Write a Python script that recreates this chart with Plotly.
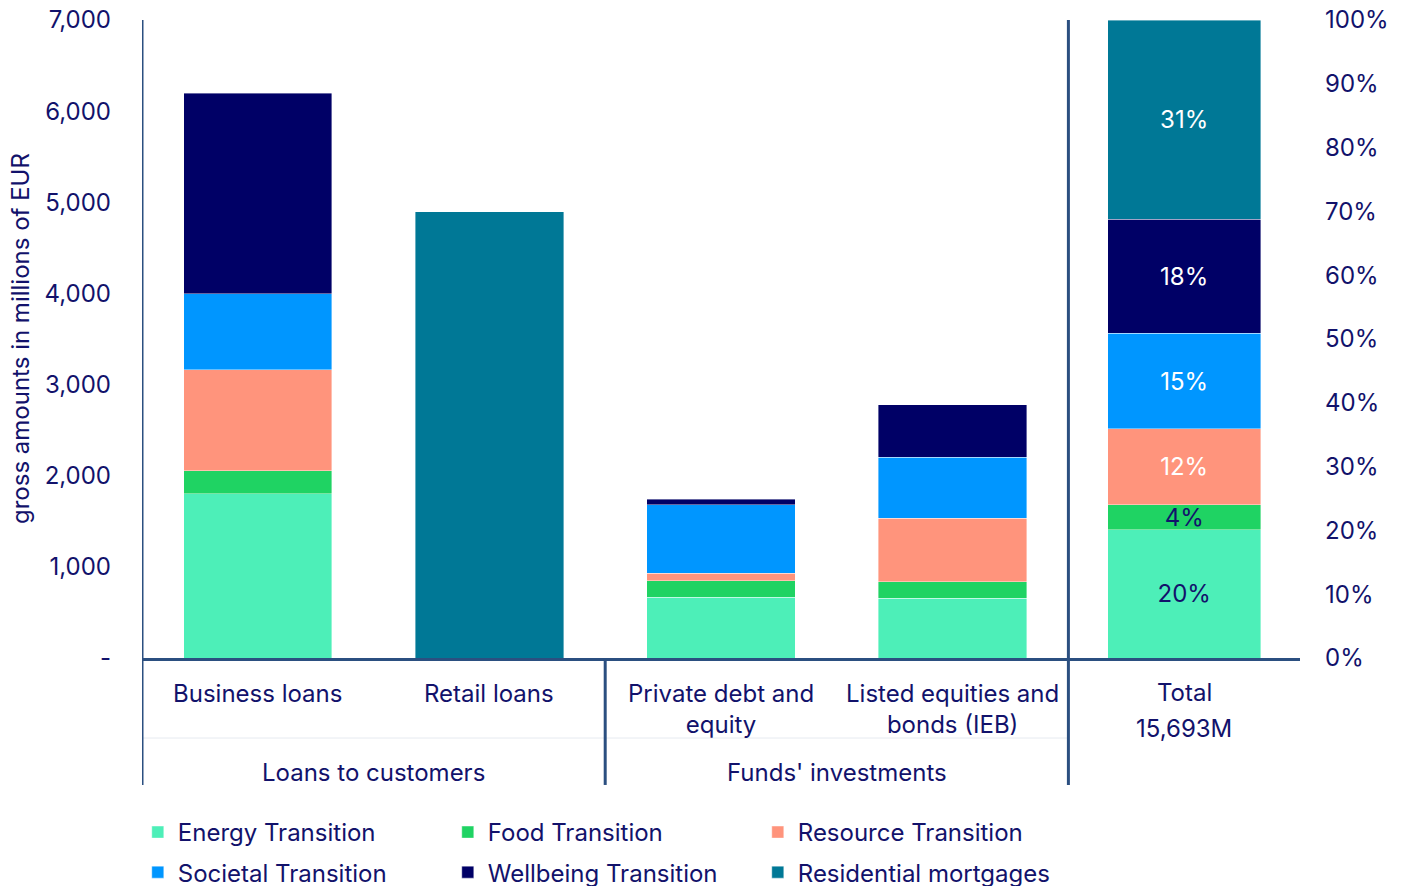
import plotly.graph_objects as go

# ---- data ----
categories = ["Business loans", "Retail loans", "Private debt and equity", "Listed equities and bonds (IEB)"]
category_labels = ["Business loans", "Retail loans", "Private debt and<br>equity", "Listed equities and<br>bonds (IEB)"]
series_names = ["Energy Transition", "Food Transition", "Resource Transition",
                "Societal Transition", "Wellbeing Transition", "Residential mortgages"]
energy = [1800, None, 669, 655]
food = [252, None, 179, 179]
resource = [1108, None, 81, 699]
societal = [834, None, 750, 672]
wellbeing = [2205, None, 62, 571]
residential = [None, 4895, None, None]
total_shares = [20.1, 3.9, 11.9, 15.0, 17.9, 31.2]   # % of total
total_label = "Total"
total_amount = "15,693M"
group_labels = ["Loans to customers", "Funds' investments"]
left_ticks = [0, 1000, 2000, 3000, 4000, 5000, 6000, 7000]
left_tick_text = ["-", "1,000", "2,000", "3,000", "4,000", "5,000", "6,000", "7,000"]
right_ticks = [0, 10, 20, 30, 40, 50, 60, 70, 80, 90, 100]
right_tick_text = [f"{v}%" for v in right_ticks]

colors = ["#4DEFB8", "#1FD363", "#FF947C", "#0096FF", "#000066", "#007896"]
label_colors = ["#12126b", "#12126b", "#ffffff", "#ffffff", "#ffffff", "#ffffff"]
TXT = "#12126b"
LINE = "#2B4F80"
FONT = "Inter"
FS = 24

series_values = [energy, food, resource, societal, wellbeing, residential]

fig = go.Figure()
x_all = categories + [total_label]
for i, name in enumerate(series_names):
    fig.add_trace(go.Bar(
        x=categories, y=series_values[i], name=name,
        marker=dict(color=colors[i], line=dict(color="rgba(255,255,255,0.5)", width=0.8)),
        width=0.64, legend="legend" if i < 3 else "legend2",
        yaxis="y", hoverinfo="x+y+name"))
for i, name in enumerate(series_names):
    fig.add_trace(go.Bar(
        x=[total_label], y=[total_shares[i]], name=name, showlegend=False,
        marker=dict(color=colors[i], line=dict(color="rgba(255,255,255,0.5)", width=0.8)),
        width=0.66, yaxis="y2",
        text=[f"{round(total_shares[i]):d}%"], textposition="inside",
        insidetextanchor="middle", constraintext="none", textangle=0,
        textfont=dict(color=label_colors[i], size=FS, family=FONT)))

shapes = []
# vertical separators
for xv, ytop in [(-0.5, 1.0), (1.5, 0.0), (3.5, 1.0)]:
    shapes.append(dict(type="line", xref="x", yref="paper", x0=xv, x1=xv,
                       y0=ytop, y1=-0.199, line=dict(color=LINE, width=3)))
# faint line between category labels and group labels
shapes.append(dict(type="line", xref="x", yref="paper", x0=-0.5, x1=3.5,
                   y0=-0.1254, y1=-0.1254, line=dict(color="#e6eaf0", width=1), layer="below"))

annotations = []
for cat, lab in zip(categories, category_labels):
    annotations.append(dict(x=cat, y=0, xref="x", yref="paper", text=lab, showarrow=False,
                            yanchor="top", yshift=-19, font=dict(size=FS, color=TXT, family=FONT),
                            align="center"))
annotations.append(dict(x=total_label, y=0, xref="x", yref="paper", text=total_label,
                        showarrow=False, yanchor="middle", yshift=-34,
                        font=dict(size=FS, color=TXT, family=FONT)))
annotations.append(dict(x=total_label, y=0, xref="x", yref="paper", text=total_amount,
                        showarrow=False, yanchor="middle", yshift=-70,
                        font=dict(size=FS, color=TXT, family=FONT)))
for xc, g in zip([0.5, 2.5], group_labels):
    annotations.append(dict(x=xc, y=0, xref="x", yref="paper", text=g, showarrow=False,
                            yanchor="middle", yshift=-114, font=dict(size=FS, color=TXT, family=FONT)))
annotations.append(dict(x=0, y=0.5, xref="paper", yref="paper", xshift=-122,
                        text="gross amounts in millions of EUR", textangle=-90, showarrow=False,
                        xanchor="center", yanchor="middle", font=dict(size=FS, color=TXT, family=FONT)))

legend_common = dict(orientation="h", xref="container", yref="container", xanchor="left",
                     yanchor="top", entrywidth=265, entrywidthmode="pixels",
                     font=dict(size=FS, color=TXT, family=FONT), bgcolor="rgba(0,0,0,0)",
                     itemclick=False, traceorder="normal")

fig.update_layout(
    width=1406, height=886,
    margin=dict(l=142, r=106, t=20, b=228, autoexpand=False),
    plot_bgcolor="white", paper_bgcolor="white",
    barmode="stack",
    font=dict(family=FONT, color=TXT, size=FS),
    xaxis=dict(type="category", categoryorder="array", categoryarray=x_all,
               range=[-0.5, 4.5], showticklabels=False, ticks="", automargin=False,
               showline=True, linecolor=LINE, linewidth=3, showgrid=False, zeroline=False),
    yaxis=dict(range=[0, 7000], tickvals=left_ticks, ticktext=left_tick_text, automargin=False,
               showgrid=False, zeroline=False, showline=False, ticks="",
               ticklabelstandoff=30, tickfont=dict(size=FS, color=TXT, family=FONT)),
    yaxis2=dict(range=[0, 100], overlaying="y", side="right", tickvals=right_ticks,
                ticktext=right_tick_text, automargin=False,
                showgrid=False, zeroline=False, showline=False, ticks="",
                ticklabelstandoff=24, tickfont=dict(size=FS, color=TXT, family=FONT)),
    legend=dict(x=0.098, y=0.0858, **legend_common),
    legend2=dict(x=0.098, y=0.0406, **legend_common),
    shapes=shapes, annotations=annotations,
    showlegend=True,
)

fig.write_html("out.html", config={"displayModeBar": False},
               post_script="document.body.style.margin='0';document.body.style.overflow='hidden';")
